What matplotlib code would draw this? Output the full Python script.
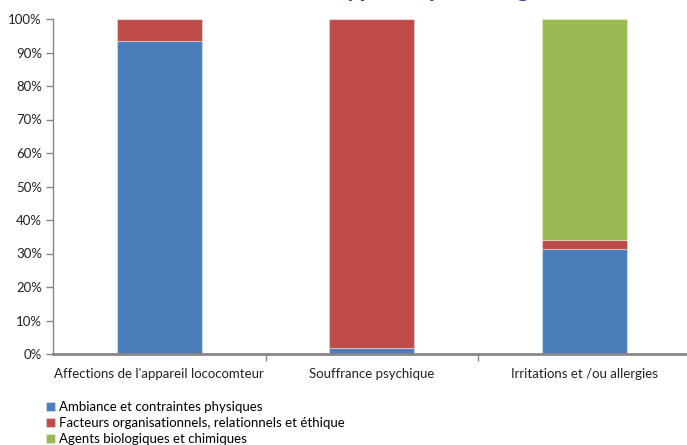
import numpy as np
import matplotlib.pyplot as plt

plt.rcParams['font.family'] = ['Lato', 'DejaVu Sans']

# Répartition des facteurs de risque par type de pathologie (en %)
categories = ["Affections de l'appareil lococomteur",
              "Souffrance psychique",
              "Irritations et /ou allergies"]
series = ["Ambiance et contraintes physiques",
          "Facteurs organisationnels, relationnels et éthique",
          "Agents biologiques et chimiques"]
ambiance = [93.5, 1.8, 31.3]
facteurs = [6.5, 98.2, 2.8]
agents = [0.0, 0.0, 65.9]
couleurs = ['#4A7EBB', '#BE4B48', '#98B954']

fig = plt.figure(figsize=(6.87, 4.45), dpi=100)
ax = fig.add_axes([53 / 687, 1 - 354 / 445, 637.5 / 687, 335 / 445])

x = np.arange(len(categories))
bas = np.zeros(len(categories))
for vals, nom, c in zip([ambiance, facteurs, agents], series, couleurs):
    ax.bar(x, vals, 0.4, bottom=bas, color=c, label=nom,
           edgecolor=(1, 1, 1, 0.35), linewidth=0.8)
    bas += np.array(vals)

ax.set_xlim(-0.5, 2.5)
ax.set_ylim(0, 100)
ax.set_yticks(np.arange(0, 101, 10))
ax.set_yticklabels([f"{v}%" for v in range(0, 101, 10)])
ax.set_xticks(x)
ax.set_xticklabels(categories)
ax.set_xticks([0.5, 1.5], minor=True)
ax.tick_params(axis='x', which='major', length=0, pad=10, labelsize=9.5, colors='#222222')
ax.tick_params(axis='x', which='minor', length=5, width=1, color='#868686')
ax.tick_params(axis='y', length=5, width=1, color='#868686', labelsize=9.5,
               labelcolor='#222222', pad=3)

for s in ['top', 'right']:
    ax.spines[s].set_visible(False)
ax.spines['left'].set_color('#868686')
ax.spines['left'].set_linewidth(1)
ax.spines['bottom'].set_color('#868686')
ax.spines['bottom'].set_linewidth(2)

# titre, rogné par le haut de la figure
fig.text(0.142, 1 + 3.3 / 445, "Les facteurs selon le type de pathologie",
         ha='left', va='baseline', fontsize=18.5, fontweight='bold', color='#2B4A9C')

handles, labels = ax.get_legend_handles_labels()
fig.legend(handles, labels, loc='upper left', bbox_to_anchor=(46 / 687, 1 - 401 / 445),
           frameon=False, fontsize=9.5, handlelength=0.7, handleheight=0.7,
           handletextpad=0.25, labelspacing=0.3, borderaxespad=0, borderpad=0)

fig.savefig('out.png', dpi=100)
